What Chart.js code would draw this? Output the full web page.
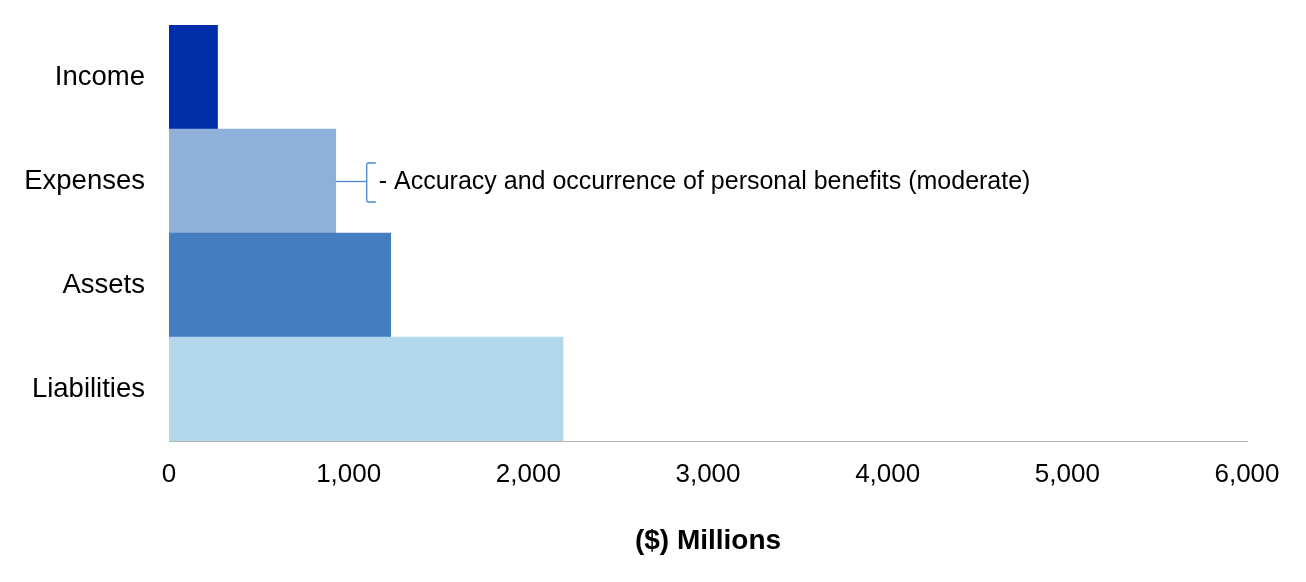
<!DOCTYPE html>
<html>
<head>
<meta charset="utf-8">
<script src="https://cdn.jsdelivr.net/npm/chart.js@4/dist/chart.umd.min.js"></script>
<style>
  html, body { margin: 0; padding: 0; background: #ffffff; }
  #wrap { width: 1306px; height: 582px; position: relative; }
</style>
</head>
<body>
<div id="wrap"><canvas id="c"></canvas></div>
<script>
const categories = ["Income", "Expenses", "Assets", "Liabilities"];
const values = [270, 928, 1234, 2193];
const barColors = ["#002DA9", "#8FB1D9", "#457EC0", "#B3D8EB"];
const xTicks = [0, 1000, 2000, 3000, 4000, 5000, 6000];
const axisTitle = "($) Millions";
const noteCategory = "Expenses";
const noteText = "- Accuracy and occurrence of personal benefits (moderate)";

const FONT = "'Liberation Sans', Arial, sans-serif";

const notePlugin = {
  id: 'note',
  afterDatasetsDraw(chart) {
    const ctx = chart.ctx;
    const xs = chart.scales.x, ys = chart.scales.y;
    const idx = categories.indexOf(noteCategory);
    const x0 = xs.getPixelForValue(values[idx]);
    const y0 = ys.getPixelForValue(idx);
    const bx = x0 + 31;
    ctx.save();
    ctx.strokeStyle = "#4A86CF";
    ctx.lineWidth = 1.3;
    ctx.beginPath();
    ctx.moveTo(x0, y0 + 0.5);
    ctx.lineTo(bx, y0 + 0.5);
    ctx.stroke();
    ctx.beginPath();
    ctx.moveTo(bx + 9, y0 - 18);
    ctx.lineTo(bx + 2, y0 - 18);
    ctx.quadraticCurveTo(bx, y0 - 18, bx, y0 - 16);
    ctx.lineTo(bx, y0 + 19);
    ctx.quadraticCurveTo(bx, y0 + 21, bx + 2, y0 + 21);
    ctx.lineTo(bx + 9, y0 + 21);
    ctx.stroke();
    ctx.fillStyle = "#000000";
    ctx.font = "25px " + FONT;
    ctx.textBaseline = "middle";
    ctx.textAlign = "left";
    ctx.fillText(noteText, bx + 12, y0 + 1);
    ctx.restore();
  }
};

new Chart(document.getElementById('c'), {
  type: 'bar',
  data: {
    labels: categories,
    datasets: [{
      data: values,
      backgroundColor: barColors,
      borderWidth: 0,
      categoryPercentage: 1.0,
      barPercentage: 1.0
    }]
  },
  options: {
    indexAxis: 'y',
    responsive: true,
    maintainAspectRatio: false,
    animation: false,
    layout: { padding: { top: 25, right: 59, left: 0, bottom: 0 } },
    plugins: {
      legend: { display: false },
      tooltip: { enabled: false }
    },
    scales: {
      x: {
        min: 0, max: 6000,
        afterBuildTicks(scale) { scale.ticks = xTicks.map(v => ({ value: v })); },
        afterFit(scale) { scale.height = 141; },
        grid: { display: false, drawTicks: false },
        border: { display: true, color: "#B4B4B4", width: 1 },
        ticks: {
          padding: 18,
          color: "#000000",
          font: { family: FONT, size: 26 },
          maxRotation: 0,
          callback: v => v.toLocaleString('en-US')
        },
        title: {
          display: true,
          text: axisTitle,
          color: "#000000",
          font: { family: FONT, size: 28, weight: 'bold' },
          padding: { top: 20, bottom: 24 }
        }
      },
      y: {
        afterFit(scale) { scale.width = 169; scale.paddingTop = 0; scale.paddingBottom = 0; },
        grid: { display: false, drawTicks: false },
        border: { display: true, color: "#C8C8C8", width: 1 },
        ticks: {
          padding: 24,
          color: "#000000",
          font: { family: FONT, size: 27.5 }
        }
      }
    }
  },
  plugins: [notePlugin]
});
</script>
</body>
</html>
